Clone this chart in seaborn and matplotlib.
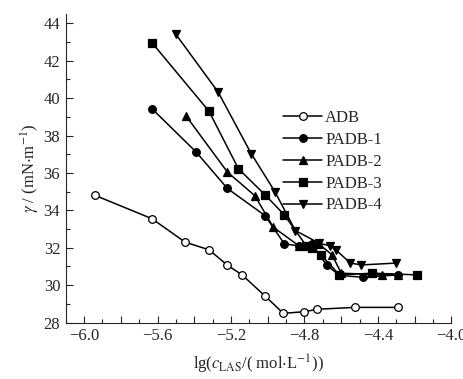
import matplotlib
matplotlib.use("Agg")
import matplotlib.pyplot as plt
from matplotlib.ticker import MultipleLocator, FuncFormatter
import seaborn as sns
import pandas as pd

# lg(c_LAS) and surface tension values
adb_x = [-5.94, -5.63, -5.45, -5.32, -5.22, -5.14, -5.015, -4.915, -4.80, -4.73, -4.525, -4.29]
adb_y = [34.80, 33.55, 32.30, 31.89, 31.07, 30.55, 29.42, 28.49, 28.58, 28.71, 28.81, 28.81]

padb1_x = [-5.63, -5.39, -5.22, -5.015, -4.91, -4.83, -4.76, -4.68, -4.61, -4.48, -4.29]
padb1_y = [39.43, 37.12, 35.17, 33.72, 32.21, 32.10, 32.20, 31.08, 30.52, 30.42, 30.55]

padb2_x = [-5.445, -5.22, -5.07, -4.97, -4.83, -4.72, -4.65, -4.60, -4.38, -4.29]
padb2_y = [39.05, 36.05, 34.78, 33.10, 32.10, 32.19, 31.62, 30.64, 30.55, 30.55]

padb3_x = [-5.63, -5.32, -5.16, -5.015, -4.91, -4.79, -4.76, -4.71, -4.61, -4.43, -4.19]
padb3_y = [42.96, 39.30, 36.23, 34.83, 33.76, 32.10, 32.01, 31.62, 30.55, 30.64, 30.55]

padb4_x = [-5.50, -5.27, -5.09, -4.96, -4.85, -4.72, -4.66, -4.63, -4.55, -4.49, -4.30]
padb4_y = [43.41, 40.32, 37.03, 34.98, 32.92, 32.24, 32.10, 31.89, 31.18, 31.08, 31.18]

series = [
    ("ADB", adb_x, adb_y, "o", "white"),
    ("PADB-1", padb1_x, padb1_y, "o", "black"),
    ("PADB-2", padb2_x, padb2_y, "^", "black"),
    ("PADB-3", padb3_x, padb3_y, "s", "black"),
    ("PADB-4", padb4_x, padb4_y, "v", "black"),
]

sns.set_style("ticks")
plt.rcParams["font.family"] = ["Liberation Serif", "DejaVu Serif"]
plt.rcParams["mathtext.fontset"] = "stix"

fig = plt.figure(figsize=(4.63, 3.79), dpi=100)
ax = fig.add_axes([0.142, 0.149, 0.833, 0.814])

for name, xs, ys, mk, face in series:
    df = pd.DataFrame({"x": xs, "y": ys})
    sns.lineplot(data=df, x="x", y="y", ax=ax, sort=False, estimator=None,
                 color="black", linewidth=1.1, marker=mk, markersize=5.5,
                 markerfacecolor=face, markeredgecolor="black",
                 markeredgewidth=0.9, label=name)

ax.set_xlim(-6.1, -4.0)
ax.set_ylim(28, 44.5)
ax.xaxis.set_major_locator(MultipleLocator(0.2))
ax.xaxis.set_minor_locator(MultipleLocator(0.1))
ax.xaxis.set_major_formatter(FuncFormatter(
    lambda v, p: ("\u2212%.1f" % abs(v)) if abs(round(v / 0.4) * 0.4 - v) < 1e-6 else ""))
ax.yaxis.set_major_locator(MultipleLocator(2))
ax.yaxis.set_minor_locator(MultipleLocator(1))

ax.tick_params(which="both", direction="in", labelsize=12, width=0.8, pad=4)
ax.tick_params(which="major", length=5)
ax.tick_params(which="minor", length=3)
for s in ["top", "right"]:
    ax.spines[s].set_visible(False)
for s in ["left", "bottom"]:
    ax.spines[s].set_linewidth(0.8)

ax.set_xlabel(r"lg($c_{\rm LAS}$/( mol$\cdot$L$^{-1}$))", fontsize=12, labelpad=6)
ax.set_ylabel(r"$\gamma$ / (mN$\cdot$m$^{-1}$)", fontsize=12, labelpad=1)

ax.legend(loc="upper left", bbox_to_anchor=(0.547, 0.71), frameon=False,
          fontsize=12, handlelength=2.3, handletextpad=0.2, labelspacing=0.35,
          borderaxespad=0)

fig.savefig("out.png", dpi=100)
